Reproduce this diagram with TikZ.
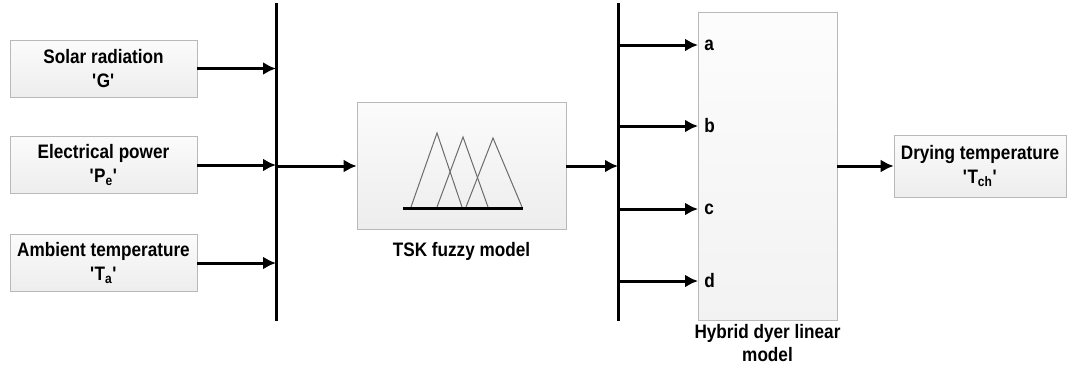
\documentclass[tikz,border=0pt]{standalone}
\usepackage{fontspec}
\setmainfont{Liberation Sans}[FakeStretch=0.88]
\usetikzlibrary{arrows.meta,positioning}

\tikzset{
  blk/.style={draw=gray!55,top color=gray!3,bottom color=gray!14,inner sep=0pt,
    align=center,font=\fontsize{19.5}{24}\selectfont\bfseries},
  inbox/.style={blk,minimum width=187pt,minimum height=57pt},
  lbl/.style={font=\fontsize{19.5}{23}\selectfont\bfseries,align=center,inner sep=1pt},
  bus/.style={line width=3pt},
  sig/.style={line width=3pt,-{Latex[length=13pt,width=13pt]}},
}

\begin{document}
\begin{tikzpicture}[x=1pt,y=-1pt,semithick]
\useasboundingbox(0,0)rectangle(1067,376);
% inputs
\node[inbox](solar)at(103.5,68.5){Solar radiation\\\textquotesingle G\textquotesingle};
\node[inbox](power)at(103.5,165){Electrical power\\\textquotesingle P\textsubscript{e}\textquotesingle};
\node[inbox](ambient)at(103.5,263){Ambient temperature\\\textquotesingle T\textsubscript{a}\textquotesingle};
% buses
\coordinate(bar1top)at(276,3);\coordinate(bar1bot)at(276,321);
\coordinate(bar2top)at(618,3);\coordinate(bar2bot)at(618,321);
\draw[bus](bar1top)--(bar1bot)(bar2top)--(bar2bot);
% models
\node[blk,minimum width=209pt,minimum height=127pt](tsk)at(461.5,166){};
\node[lbl,below=11pt of tsk](tsklbl){TSK fuzzy model};
\node[blk,top color=gray!2,bottom color=gray!10,minimum width=139pt,minimum height=308pt](hyb)at(767.5,166){};
\node[lbl,below=3pt of hyb](hyblbl){Hybrid dyer linear\\model};
\node[inbox,minimum width=172pt,minimum height=62pt](dry)at(980,166){Drying temperature\\\textquotesingle T\textsubscript{ch}\textquotesingle};
% membership functions
\foreach \l/\xa/\ya/\r in {411/437/133/462,437/463/137/488,466/493/138/522}
  \draw[gray!85!black,line width=1pt](\l,207)--(\xa,\ya)--(\r,207);
\draw[line width=3pt](403,208)--(523,208);
% connectors
\foreach \n in {solar,power,ambient}
  \draw[sig](\n.east)--(\n.east-|bar1top);
\draw[sig](bar1top|-tsk.west)--(tsk.west);
\draw[sig](tsk.east)--(tsk.east-|bar2top);
\foreach \l/\y in {a/45,b/126,c/209,d/281}{
  \coordinate(in\l)at(698,\y);
  \draw[sig](bar2top|-in\l)--(in\l);
  \node[lbl,anchor=west,xshift=5pt](l\l)at(in\l){\l};
}
\draw[sig](hyb.east|-dry.west)--(dry.west);
\end{tikzpicture}
\end{document}
